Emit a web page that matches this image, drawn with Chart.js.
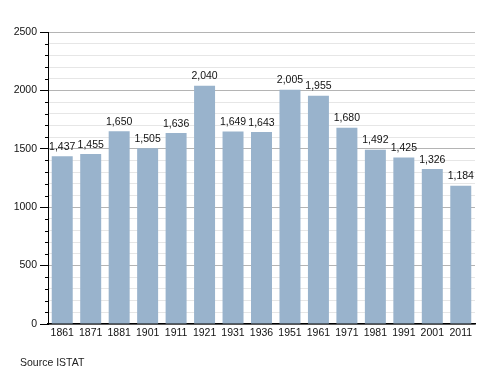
<!DOCTYPE html>
<html>
<head>
<meta charset="utf-8">
<script src="https://cdn.jsdelivr.net/npm/chart.js@4"></script>
<style>
html,body{margin:0;padding:0;background:#fff;}
#wrap{position:relative;width:500px;height:373px;}
#src{position:absolute;left:20px;top:356px;font:10.5px "Liberation Sans",Arial,sans-serif;color:#222;}
</style>
</head>
<body>
<div id="wrap">
<canvas id="c" width="500" height="373"></canvas>
<div id="src">Source ISTAT</div>
</div>
<script>
const categories = ['1861','1871','1881','1901','1911','1921','1931','1936','1951','1961','1971','1981','1991','2001','2011'];
const population = [1437,1455,1650,1505,1636,2040,1649,1643,2005,1955,1680,1492,1425,1326,1184];
const yMin = 0, yMax = 2500, yMinorStep = 100, yMajorStep = 500;

const FONT = '"Liberation Sans", Arial, sans-serif';

const valueLabels = {
  id: 'valueLabels',
  afterDatasetsDraw(chart) {
    const ctx = chart.ctx;
    const meta = chart.getDatasetMeta(0);
    ctx.save();
    ctx.font = '10.5px ' + FONT;
    ctx.fillStyle = '#111';
    ctx.textAlign = 'center';
    ctx.textBaseline = 'bottom';
    meta.data.forEach((bar, i) => {
      ctx.fillText(population[i].toLocaleString('en-US'), bar.x, bar.y - 4);
    });
    ctx.restore();
  }
};

const minorTicks = {
  id: 'minorTicks',
  afterDraw(chart) {
    const y = chart.scales.y;
    const ctx = chart.ctx;
    const x0 = chart.chartArea.left;
    ctx.save();
    ctx.strokeStyle = '#000';
    ctx.lineWidth = 1;
    for (let v = yMin; v <= yMax; v += yMinorStep) {
      if (v % yMajorStep === 0) continue;
      const py = Math.round(y.getPixelForValue(v)) + 0.5;
      ctx.beginPath();
      ctx.moveTo(x0 - 3, py);
      ctx.lineTo(x0, py);
      ctx.stroke();
    }
    ctx.restore();
  }
};

new Chart(document.getElementById('c'), {
  type: 'bar',
  data: {
    labels: categories,
    datasets: [{
      data: population,
      backgroundColor: '#99b3cc',
      borderWidth: 0,
      barPercentage: 0.737,
      categoryPercentage: 1.0
    }]
  },
  options: {
    responsive: false,
    animation: false,
    layout: { padding: { top: 32, right: 25, left: 0, bottom: 0 } },
    plugins: { legend: { display: false }, tooltip: { enabled: false } },
    scales: {
      x: {
        grid: { display: false, drawTicks: false },
        border: { color: '#000', width: 1.5 },
        ticks: { color: '#111', font: { family: FONT, size: 10.5 }, padding: 3, maxRotation: 0, autoSkip: false },
        afterFit(s) { s.height = 49; }
      },
      y: {
        min: yMin, max: yMax,
        border: { color: '#000', width: 1 },
        grid: {
          color: c => (c.tick && c.tick.value % yMajorStep === 0) ? '#b4b4b4' : '#e6e6e6',
          tickColor: c => (c.tick && c.tick.value % yMajorStep === 0) ? '#000' : 'rgba(0,0,0,0)',
          tickLength: 8,
          drawOnChartArea: true
        },
        ticks: {
          stepSize: yMinorStep,
          autoSkip: false,
          color: '#111',
          font: { family: FONT, size: 10.5 },
          padding: 3,
          callback: v => (v % yMajorStep === 0 ? String(v) : '')
        },
        afterFit(s) { s.width = 48; }
      }
    }
  },
  plugins: [valueLabels, minorTicks]
});
</script>
</body>
</html>
